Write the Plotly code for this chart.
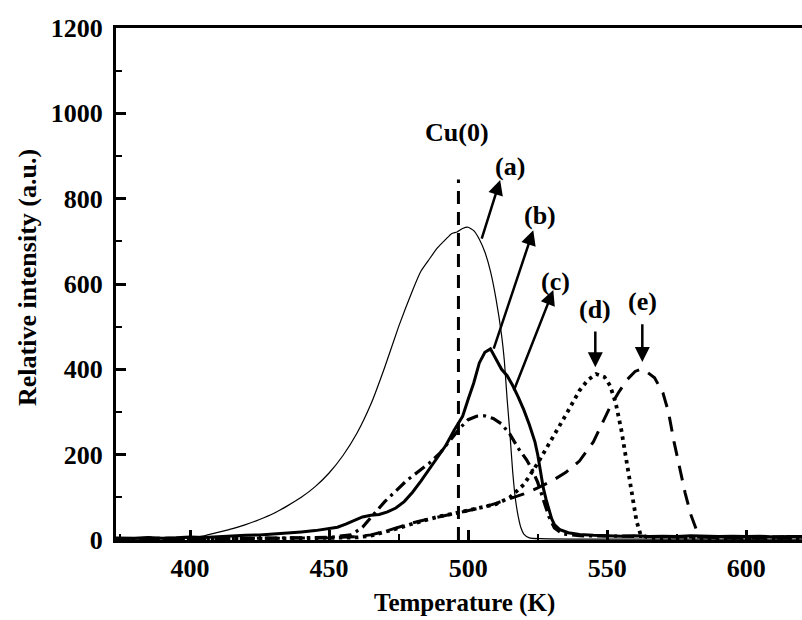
import plotly.graph_objects as go

# ---- data ----
xa = [373, 380, 390, 400, 405, 410, 415, 420, 425, 430, 435, 440, 445, 450, 455, 460, 465, 470, 475, 480,
      483, 486, 489, 492, 494, 496, 498, 500, 502, 504, 506, 508, 510, 512, 513, 514, 515, 516, 517, 518,
      519, 520, 522, 526, 540, 560, 580, 600, 620]
ya = [3, 2, 3, 5, 10, 18, 26, 36, 48, 62, 80, 100, 125, 157, 198, 250, 318, 405, 500, 585,
      630, 658, 685, 705, 718, 722, 730, 733, 725, 705, 675, 630, 565, 480, 420, 330, 250, 160, 95, 55,
      28, 14, 5, 3, 2, 2, 2, 2, 2]

xb = [373, 380, 385, 390, 395, 400, 405, 410, 415, 420, 425, 430, 435, 440, 445, 450, 453, 456, 459, 462,
      465, 468, 471, 474, 477, 480, 483, 486, 489, 492, 495, 498, 500, 502, 504, 506, 508, 510, 512, 514,
      516, 518, 520, 522, 524, 525, 526, 527, 528, 529, 530, 531, 533, 536, 540, 545, 550, 555, 560, 565,
      570, 575, 580, 585, 590, 595, 600, 605, 610, 615, 620]
yb = [5, 4, 6, 4, 5, 7, 6, 8, 9, 11, 12, 14, 16, 19, 22, 26, 30, 37, 46, 54,
      58, 60, 66, 75, 90, 112, 138, 165, 192, 222, 258, 290, 330, 368, 415, 440, 448, 425, 400, 385,
      362, 335, 305, 270, 230, 200, 160, 122, 95, 70, 50, 36, 24, 17, 13, 11, 10, 9, 10, 8,
      9, 8, 10, 9, 8, 9, 8, 9, 7, 8, 8]

xc = [373, 390, 410, 430, 450, 458, 462, 466, 470, 474, 478, 482, 486, 490, 494, 497, 500, 503, 506, 509,
      512, 515, 518, 521, 523, 525, 527, 529, 531, 534, 540, 560, 580, 600, 620]
yc = [3, 4, 3, 5, 6, 12, 30, 60, 90, 115, 140, 160, 180, 205, 238, 262, 282, 290, 291, 285,
      272, 248, 215, 188, 165, 135, 95, 55, 28, 14, 10, 8, 7, 8, 7]

xd = [373, 390, 410, 430, 450, 460, 465, 470, 475, 480, 485, 490, 495, 500, 505, 510, 515, 520, 525, 530,
      535, 540, 543, 546, 549, 551, 553, 555, 557, 559, 560.5, 562, 565, 580, 600, 620]
yd = [2, 3, 2, 3, 4, 6, 10, 18, 28, 38, 48, 56, 62, 70, 76, 84, 100, 130, 180, 235,
      292, 350, 375, 389, 382, 362, 322, 260, 180, 95, 45, 12, 5, 4, 4, 3]

xe = [373, 400, 430, 450, 460, 465, 470, 475, 480, 485, 490, 495, 500, 505, 510, 515, 520, 525, 530, 535,
      540, 545, 548, 551, 554, 557, 560, 562, 564, 567, 570, 572, 574, 576, 578, 580, 582, 584, 590, 600, 620]
ye = [2, 3, 4, 5, 8, 12, 20, 30, 40, 48, 55, 62, 68, 76, 86, 97, 108, 122, 138, 158,
      185, 230, 270, 312, 345, 375, 395, 400, 395, 380, 345, 300, 230, 170, 110, 60, 25, 8, 5, 4, 4]

cu0_x = [496.5, 496.5]
cu0_y = [0, 845]

x_range = [373.4, 620]
y_range = [0, 1200]
x_ticks = [400, 450, 500, 550, 600]
y_ticks = [0, 200, 400, 600, 800, 1000, 1200]

# arrows: (label, tail x, tail y, tip x, tip y, label x, label y)
arrows = [
    ("(a)", 504.7, 703, 511.5, 844, 515.1, 876),
    ("(b)", 509.0, 445, 523.4, 726, 525.9, 761),
    ("(c)", 516.2, 347, 530.6, 586, 531.3, 607),
    ("(d)", 545.7, 492, 545.7, 405, 545.7, 541),
    ("(e)", 562.6, 509, 562.6, 417, 562.6, 560),
]

FONT = "Liberation Serif"
FS = 26

fig = go.Figure()
fig.add_trace(go.Scatter(x=xa, y=ya, mode="lines", line=dict(color="black", width=1.2, shape="spline", smoothing=0.5)))
fig.add_trace(go.Scatter(x=xb, y=yb, mode="lines", line=dict(color="black", width=3)))
fig.add_trace(go.Scatter(x=xc, y=yc, mode="lines", line=dict(color="black", width=3.2, dash="12px,5px,3px,5px")))
fig.add_trace(go.Scatter(x=xd, y=yd, mode="lines", line=dict(color="black", width=3.8, dash="3.5px,4.5px")))
fig.add_trace(go.Scatter(x=xe, y=ye, mode="lines", line=dict(color="black", width=3, dash="15px,10px")))
fig.add_trace(go.Scatter(x=cu0_x, y=cu0_y, mode="lines", line=dict(color="black", width=3, dash="13px,8px")))

ann = []
for lab, tx, ty, hx, hy, lx, ly in arrows:
    ann.append(dict(x=hx, y=hy, ax=tx, ay=ty, xref="x", yref="y", axref="x", ayref="y",
                    showarrow=True, arrowhead=2, arrowsize=1.2, arrowwidth=2.5, arrowcolor="black", text=""))
    ann.append(dict(x=lx, y=ly, xref="x", yref="y", text=lab, showarrow=False,
                    font=dict(family=FONT, size=FS, color="black", weight="bold")))
ann.append(dict(x=496.1, y=954, xref="x", yref="y", text="Cu(0)", showarrow=False,
                font=dict(family=FONT, size=FS, color="black", weight="bold")))
ann.append(dict(x=0.5073, y=-0.1230, xref="paper", yref="paper", text="Temperature (K)", showarrow=False,
                font=dict(family=FONT, size=25, color="black", weight="bold"), yanchor="middle"))
ann.append(dict(x=-0.1283, y=0.5137, xref="paper", yref="paper", text="Relative intensity (a.u.)",
                showarrow=False, textangle=-90,
                font=dict(family=FONT, size=FS, color="black", weight="bold"), xanchor="center"))

fig.update_layout(
    width=802, height=620,
    margin=dict(l=116, r=0, t=28, b=80),
    paper_bgcolor="white", plot_bgcolor="white",
    showlegend=False,
    annotations=ann,
    xaxis=dict(range=x_range, tickvals=x_ticks, showgrid=False, zeroline=False,
               showline=True, linewidth=3, linecolor="black", mirror=True,
               ticks="inside", ticklen=10, tickwidth=3, tickcolor="black",
               minor=dict(ticks="inside", ticklen=6, tickwidth=2, dtick=25, tick0=400, tickcolor="black"),
               tickfont=dict(family=FONT, size=FS, color="black", weight="bold"),
               ticklabelstandoff=3),
    yaxis=dict(range=y_range, tickvals=y_ticks, showgrid=False, zeroline=False,
               showline=True, linewidth=3, linecolor="black", mirror=False,
               ticks="inside", ticklen=10, tickwidth=3, tickcolor="black",
               minor=dict(ticks="inside", ticklen=6, tickwidth=2, dtick=100, tick0=0, tickcolor="black"),
               tickfont=dict(family=FONT, size=FS, color="black", weight="bold"),
               ticklabelstandoff=5),
)

fig.write_html("out.html")
